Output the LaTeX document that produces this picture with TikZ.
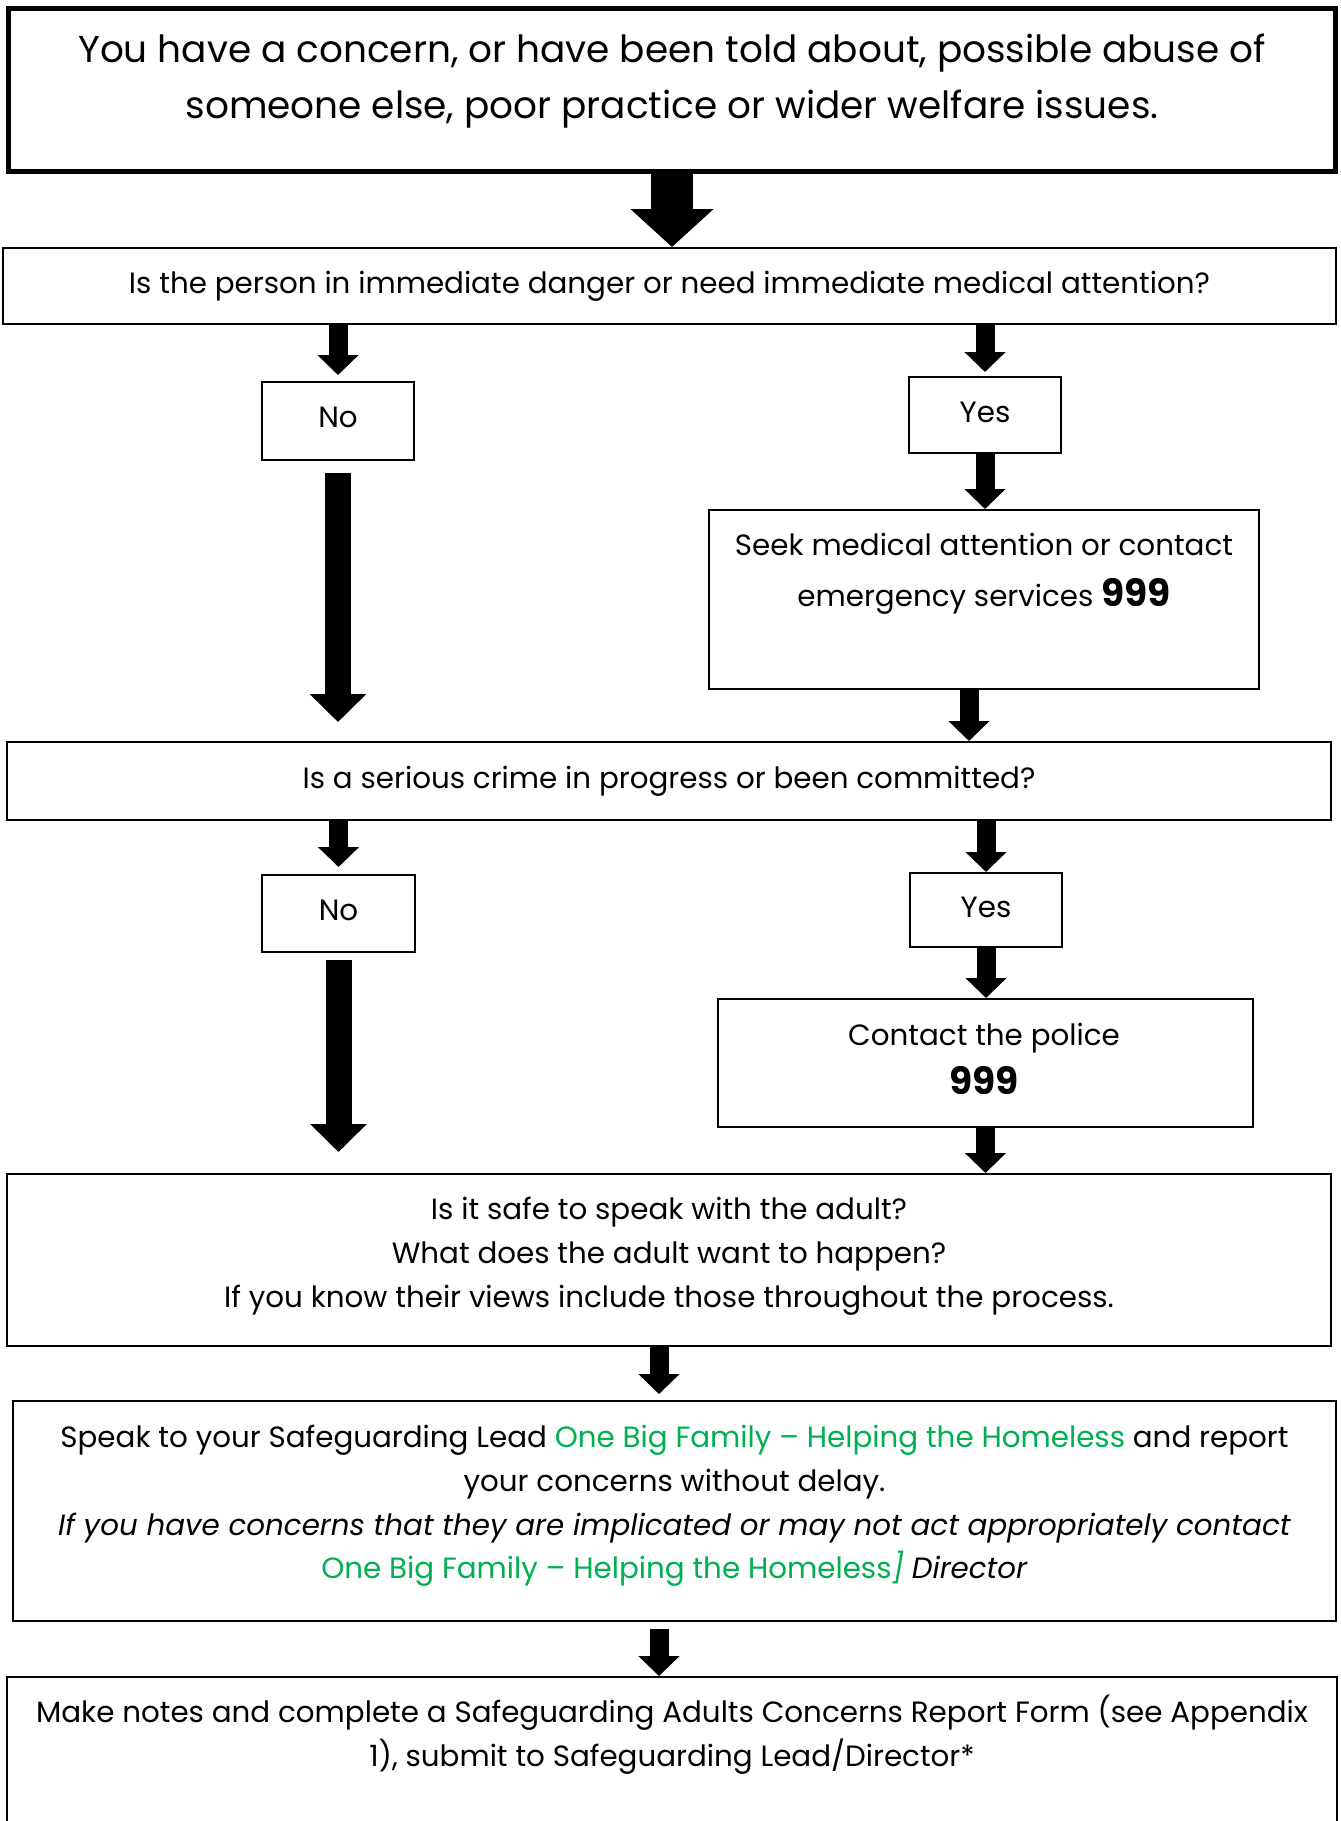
\documentclass[tikz,border=0pt]{standalone}
\usepackage{fontspec}
\setmainfont{Poppins}
\usepackage{tikz}
\usetikzlibrary{arrows.meta, positioning}
\definecolor{obfgreen}{RGB}{0,176,80}

\begin{document}
\begin{tikzpicture}[
    x=0.02cm, y=-0.02cm,
    box/.style={draw, line width=0.04cm, inner sep=0pt},
    mainbox/.style={box, line width=0.1cm},
    bodyfont/.style={font=\fontsize{16.7}{24.9}\selectfont, align=center, inner sep=0pt},
    headfont/.style={font=\fontsize{21.3}{31.7}\selectfont, align=center, inner sep=0pt},
    bigarrow/.style={line width=0.84cm, -{Triangle[length=0.76cm, width=1.62cm]}},
    flowarrow/.style={line width=0.38cm, -{Triangle[length=0.4cm, width=0.8cm]}},
    longarrow/.style={line width=0.52cm, -{Triangle[length=0.56cm, width=1.1cm]}}
]
\useasboundingbox (0,0) rectangle (1341,1821);
\clip (0,0) rectangle (1341,1821);

% Boxes
\node[mainbox, minimum width=26.56cm, minimum height=3.28cm] (top) at (672,90) {};
\node[box, minimum width=26.66cm, minimum height=1.52cm] (danger) at (669.5,286) {};
\node[box, minimum width=3.04cm, minimum height=1.56cm] (no1) at (338,421) {};
\node[box, minimum width=3.04cm, minimum height=1.52cm] (yes1) at (985,415) {};
\node[box, minimum width=11cm, minimum height=3.58cm] (seek) at (984,599.5) {};
\node[box, minimum width=26.48cm, minimum height=1.56cm] (crime) at (669,781) {};
\node[box, minimum width=3.06cm, minimum height=1.54cm] (no2) at (338.5,913.5) {};
\node[box, minimum width=3.04cm, minimum height=1.48cm] (yes2) at (986,910) {};
\node[box, minimum width=10.7cm, minimum height=2.56cm] (police) at (985.5,1063) {};
\node[box, minimum width=26.48cm, minimum height=3.44cm] (safe) at (669,1260) {};
\node[box, minimum width=26.46cm, minimum height=4.4cm] (speak) at (674.5,1511) {};
\node[box, minimum width=26.6cm, minimum height=4.46cm] (notes) at (672,1788.5) {};

% Texts
\node[headfont] (toptext) at (672,81) {You have a concern, or have been told about, possible abuse of\\someone else, poor practice or wider welfare issues.};
\node[bodyfont] (dangertext) at (danger) {Is the person in immediate danger or need immediate medical attention?};
\node[bodyfont] (no1text) at (338,417) {No};
\node[bodyfont] (yes1text) at (985,412) {Yes};
\node[bodyfont, font=\fontsize{16.7}{28.9}\selectfont] (seektext) at (984,574) {Seek medical attention or contact\\emergency services {\fontsize{21.4}{28.9}\selectfont\bfseries 999}};
\node[bodyfont] (crimetext) at (crime) {Is a serious crime in progress or been committed?};
\node[bodyfont] (no2text) at (338.5,910) {No};
\node[bodyfont] (yes2text) at (986,907) {Yes};
\node[bodyfont, font=\fontsize{16.7}{28.3}\selectfont] (policetext) at (984,1059) {Contact the police\\{\fontsize{21.4}{28.3}\selectfont\bfseries 999}};
\node[bodyfont] (safetext) at (669,1256) {Is it safe to speak with the adult?\\What does the adult want to happen?\\If you know their views include those throughout the process.};
\node[bodyfont] (speaktext) at (674.5,1506) {Speak to your Safeguarding Lead \textcolor{obfgreen}{One Big Family – Helping the Homeless} and report\\your concerns without delay.\\\textit{If you have concerns that they are implicated or may not act appropriately contact}\\\textcolor{obfgreen}{One Big Family – Helping the Homeless\textit{]}} \textit{Director}};
\node[bodyfont] (notestext) at (672,1735) {Make notes and complete a Safeguarding Adults Concerns Report Form (see Appendix\\1), submit to Safeguarding Lead/Director*};

% Arrows
\draw[bigarrow] (top.south) -- (top.south |- danger.north);
\draw[flowarrow, shorten >=0.12cm] (danger.south -| no1) -- (no1.north);
\draw[flowarrow, shorten >=0.08cm] (danger.south -| yes1) -- (yes1.north);
\draw[longarrow, shorten <=0.24cm, shorten >=0.38cm] (no1.south) -- (no1.south |- crime.north);
\draw[flowarrow] (yes1.south) -- (yes1.south |- seek.north);
\draw[flowarrow] ([xshift=-0.3cm]seek.south) -- ([xshift=-0.3cm]seek.south |- crime.north);
\draw[flowarrow, shorten >=0.14cm] (crime.south -| no2) -- (no2.north);
\draw[flowarrow] (crime.south -| yes2) -- (yes2.north);
\draw[longarrow, shorten <=0.14cm, shorten >=0.42cm] (no2.south) -- (no2.south |- safe.north);
\draw[flowarrow] (yes2.south) -- (yes2.south |- police.north);
\draw[flowarrow] (police.south) -- (police.south |- safe.north);
\draw[flowarrow, shorten >=0.12cm] ([xshift=-0.2cm]safe.south) -- ([xshift=-0.2cm]safe.south |- speak.north);
\draw[flowarrow, shorten <=0.14cm] ([xshift=-0.31cm]speak.south) -- ([xshift=-0.31cm]speak.south |- notes.north);

\end{tikzpicture}
\end{document}
